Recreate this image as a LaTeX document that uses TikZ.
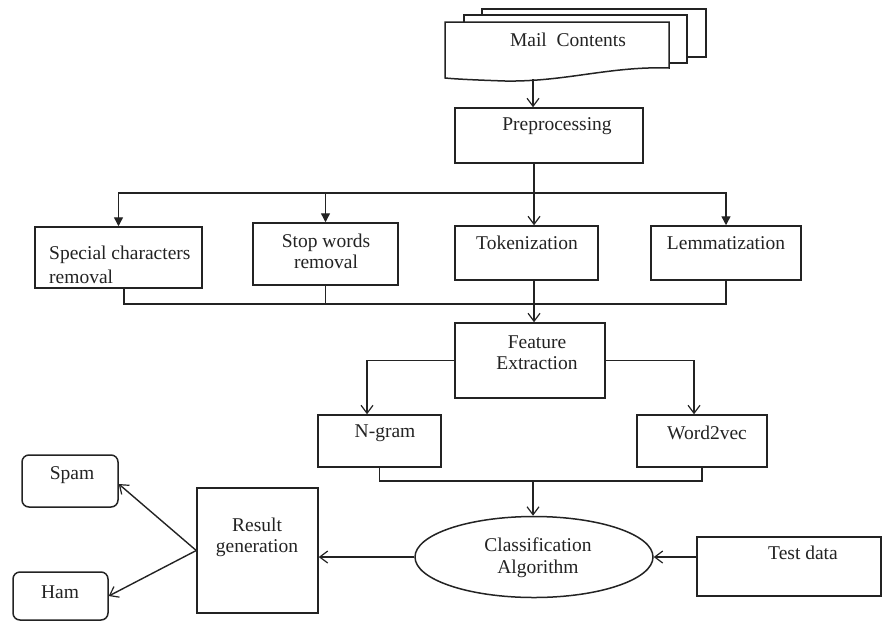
\documentclass[tikz,border=0pt]{standalone}
\usepackage{fontspec}
\setmainfont{Liberation Serif}
\usetikzlibrary{arrows.meta,shapes.geometric}
\definecolor{ink}{RGB}{35,35,35}
\tikzset{
  box/.style={draw=ink, line width=1.5pt, fill=white, inner sep=0pt},
  rbox/.style={box, rounded corners=7pt},
  txt/.style={text=ink, inner sep=0pt, align=center, font=\fontsize{19.5}{21.5}\selectfont},
  open/.style={-{Straight Barb[length=8pt,width=12pt,line width=1.2pt]}},
  solid tip/.style={-{Triangle[length=9pt,width=9pt]}},
  link/.style={draw=ink, line width=1.4pt}
}
\begin{document}
\begin{tikzpicture}[x=1pt,y=-1pt]
    \useasboundingbox (0,0) rectangle (890,621);

    % Mail contents (stack of pages)
    \draw[box] (482,9) rectangle (706,57);
    \draw[box] (464,15) rectangle (687,63);
    \draw[box] (445,22) -- (669,22) -- (669,68)
        .. controls (610,66) and (565,82) .. (505,81)
        .. controls (475,80) and (455,79) .. (445,78) -- cycle;
    \node[txt] (mail) at (568,40) {Mail\hspace{0.5em}Contents};
    \coordinate (mail-b) at (533,79);

    % Preprocessing
    \node[box, minimum width=188, minimum height=55] (pre) at (549,135.5) {};
    \node[txt] (pre-t) at (557,126) {Preprocessing};

    % Preprocessing steps
    \node[box, minimum width=167, minimum height=61] (spc) at (118.5,257.5) {};
    \node[txt, anchor=west, align=left, font=\fontsize{19.5}{24}\selectfont] (spc-t) at (49,265) {Special characters\\removal};
    \node[box, minimum width=145, minimum height=62] (stop) at (325.5,254) {};
    \node[txt] (stop-t) at (326,251.5) {Stop words\\removal};
    \node[box, minimum width=143, minimum height=54] (tok) at (526.5,253) {};
    \node[txt] (tok-t) at (527,243) {Tokenization};
    \node[box, minimum width=150, minimum height=54] (lem) at (726,253) {};
    \node[txt] (lem-t) at (726,243) {Lemmatization};

    % Feature extraction
    \node[box, minimum width=150, minimum height=75] (fe) at (530,360.5) {};
    \node[txt] (fe-t) at (537,352.5) {Feature\\Extraction};
    \node[box, minimum width=123, minimum height=52] (ngram) at (379.5,441) {};
    \node[txt] (ngram-t) at (385,433) {N-gram};
    \node[box, minimum width=130, minimum height=52] (w2v) at (702,441) {};
    \node[txt] (w2v-t) at (707,433) {Word2vec};

    % Classification and results
    \node[box, ellipse, minimum width=238, minimum height=81] (cls) at (534,557) {};
    \node[txt] (cls-t) at (538,557.5) {Classification\\Algorithm};
    \node[box, minimum width=184, minimum height=59] (test) at (789,566.5) {};
    \node[txt] (test-t) at (803,553) {Test data};
    \node[box, minimum width=121, minimum height=125] (res) at (257.5,550.5) {};
    \node[txt] (res-t) at (257,537.5) {Result\\generation};
    \node[rbox, minimum width=96, minimum height=52] (spam) at (70,481) {};
    \node[txt] (spam-t) at (72,475) {Spam};
    \node[rbox, minimum width=95, minimum height=48] (ham) at (60.5,596) {};
    \node[txt] (ham-t) at (60,592) {Ham};

    % Bus lines
    \coordinate (b1) at (534,193);
    \coordinate (b2) at (534,304);
    \coordinate (b3) at (533,481);

    % Arrows
    \draw[link, open] (mail-b) -- (mail-b |- pre.north);
    \draw[link] (pre.south -| b1) -- (b1);
    \draw[link, open] (b1) -- (b1 |- tok.north);
    \draw[link, solid tip] (b1) -| (spc.north);
    \draw[link, solid tip] (b1) -| (stop.north);
    \draw[link, solid tip] (b1) -| (lem.north);

    \draw[link] (spc.south -| 124,0) |- (b2) -| (lem.south);
    \draw[link] (stop.south) -- (stop.south |- b2);
    \draw[link] (tok.south -| b2) -- (b2);
    \draw[link, open] (b2) -- (fe.north -| b2);

    \draw[link, open] (fe.west) -| (ngram.north -| 367,0);
    \draw[link, open] (fe.east) -| (w2v.north -| 694,0);

    \draw[link] (ngram.south) |- (b3) -| (w2v.south);
    \draw[link, open] (b3) -- (b3 |- cls.north);

    \draw[link, open] (test.west |- cls) -- (cls.east);
    \draw[link, open] (cls.west) -- (cls.west -| res.east);
    \draw[link, open] (res.west) -- ([yshift=-3]spam.east);
    \draw[link, open] (res.west) -- (ham.east);

\end{tikzpicture}
\end{document}
